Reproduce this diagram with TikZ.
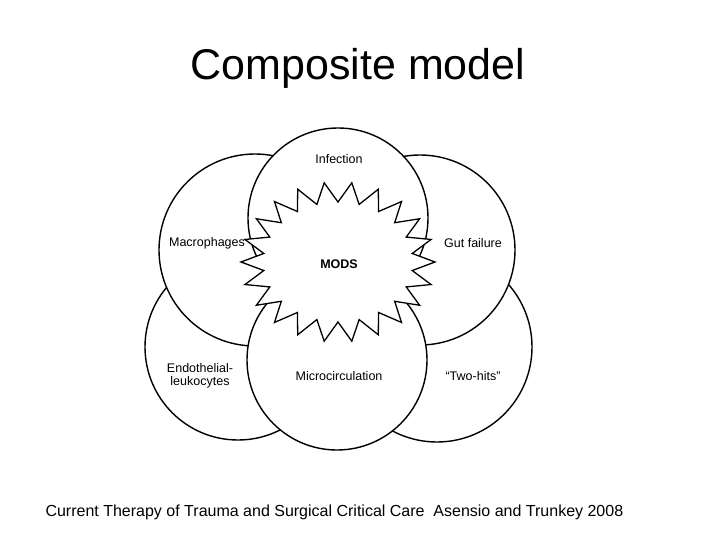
\documentclass[tikz,border=0pt]{standalone}
\usepackage{fontspec}
\setmainfont{Liberation Sans}
\begin{document}
\begin{tikzpicture}[x=1pt,y=-1pt,
  circ/.style={draw=black,line width=1.4pt,fill=white},
  lbl/.style={font=\fontsize{12.5}{13.5}\selectfont,align=center}]
\path[use as bounding box] (0,0) rectangle (720,540);
\node[font=\fontsize{43}{46}\selectfont] (title) at (358,68) {Composite model};
\draw[circ] (238,347) circle (93);
\draw[circ] (437,347) circle (95);
\draw[circ] (255,250) circle (96);
\draw[circ] (420,250) circle (95);
\draw[circ] (338,218) circle (90);
\draw[circ] (337,360) circle (90);
\draw[circ,line width=1.3pt] plot[samples=44,domain=0:43,variable=\i]
  ({338+(mod(\i,2)==0?97:75)*cos(\i*360/44)},{262+(mod(\i,2)==0?80:60)*sin(\i*360/44)}) -- cycle;
\node[lbl] (inf) at (339,159) {Infection};
\node[lbl] (mac) at (207,243) {Macrophages};
\node[lbl] (gut) at (473,243) {Gut failure};
\node[lbl,font=\fontsize{12.5}{13.5}\selectfont\bfseries] (mods) at (339,264) {MODS};
\node[lbl] (endo) at (200,376) {Endothelial-\\leukocytes};
\node[lbl] (micro) at (339,376) {Microcirculation};
\node[lbl] (two) at (473,376) {``Two-hits''};
\node[anchor=west,font=\fontsize{16}{18}\selectfont] (cap) at (42,512) {Current Therapy of Trauma and Surgical Critical Care\ \ Asensio and Trunkey 2008};
\end{tikzpicture}
\end{document}
